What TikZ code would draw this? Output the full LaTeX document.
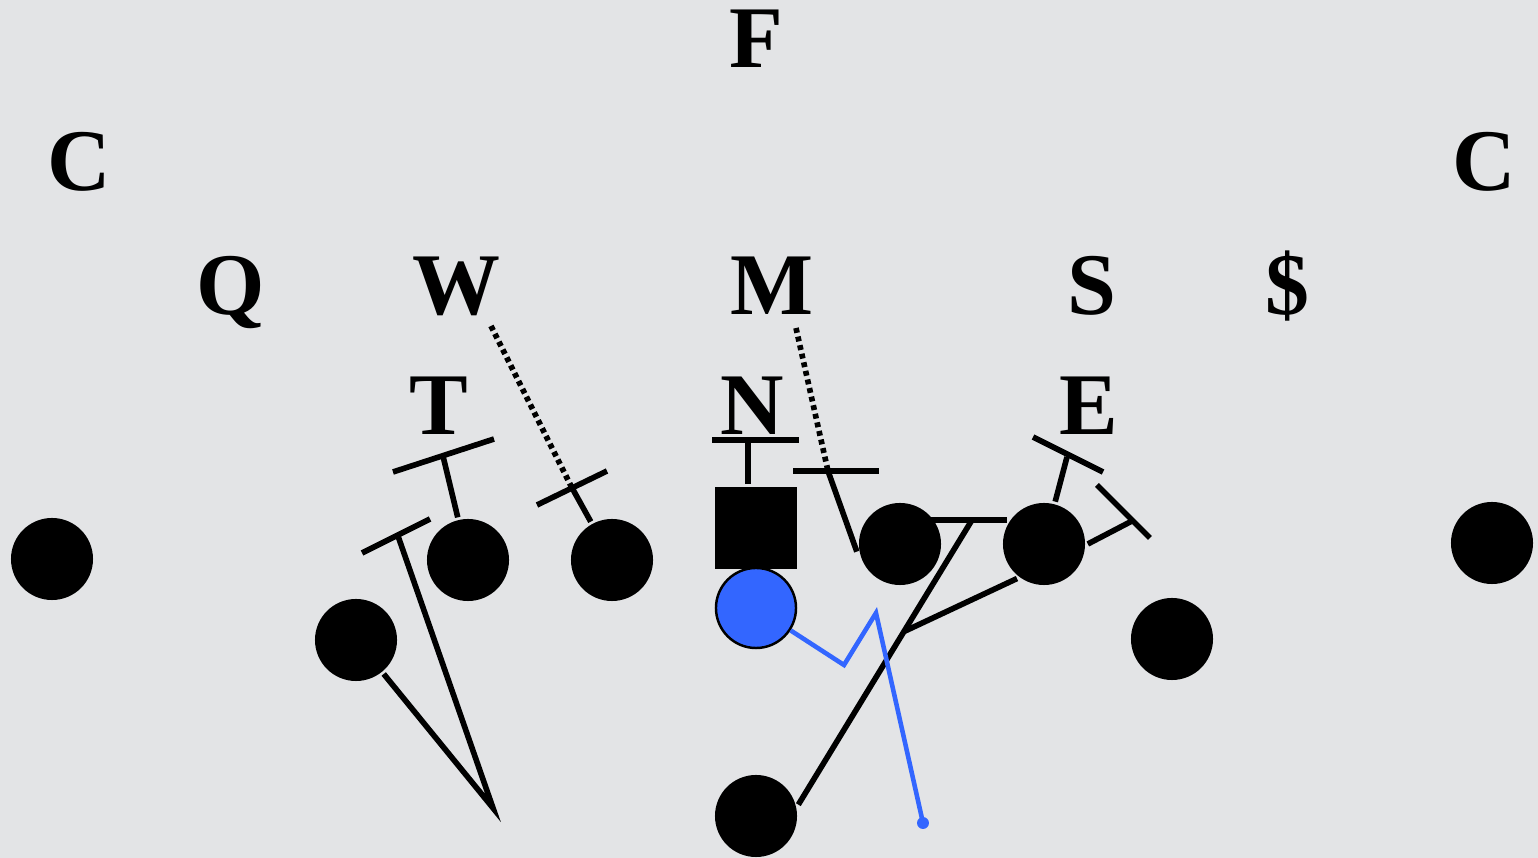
\documentclass[tikz,border=0pt]{standalone}
\usepackage{fontspec}
\setmainfont{Liberation Serif}[BoldFont={Liberation Serif Bold}]
\definecolor{marble}{RGB}{227,228,230}
\definecolor{qbblue}{RGB}{51,102,255}
\begin{document}
\begin{tikzpicture}[x=0.01cm, y=-0.01cm, line width=1.6pt,
  man/.style={circle, fill=black, minimum size=0.82cm, inner sep=0pt},
  ctrbox/.style={rectangle, fill=black, minimum size=0.82cm, inner sep=0pt},
  qbman/.style={circle, fill=qbblue, draw=black, line width=0.7pt, minimum size=0.8cm, inner sep=0pt},
  dfn/.style={font=\fontsize{25}{30}\selectfont\bfseries, anchor=base, inner sep=0pt},
  read/.style={dash pattern=on 1.4pt off 1.1pt},
  route/.style={qbblue, line width=1.3pt}]
  \fill[marble] (0,0) rectangle (1538,858);
  \useasboundingbox (0,0) rectangle (1538,858);
  % defense
  \node[dfn] (f) at (756,68) {F};
  \node[dfn] (cl) at (79,191) {C};
  \node[dfn] (cr) at (1484,191) {C};
  \node[dfn] (q) at (231,315) {Q};
  \node[dfn] (w) at (456,315) {W};
  \node[dfn] (m) at (772,315) {M};
  \node[dfn] (s) at (1092,315) {S};
  \node[dfn] (dl) at (1287,315) {\$};
  \node[dfn] (t) at (439,435) {T};
  \node[dfn] (n) at (752,435) {N};
  \node[dfn] (e) at (1089,435) {E};
  % offense
  \node[man] (wrl) at (52,559) {};
  \node[man] (lt) at (468,560) {};
  \node[man] (lg) at (612,560) {};
  \node[ctrbox] (ctr) at (756,528) {};
  \node[man] (rg) at (900,544) {};
  \node[man] (rt) at (1044,544) {};
  \node[man] (te) at (1172,639) {};
  \node[man] (wrr) at (1492,543) {};
  \node[man] (hb) at (356,640) {};
  \node[qbman] (qb) at (756,608) {};
  \node[man] (rb) at (756,816) {};
  % block points
  \coordinate (ltB) at (443,456);
  \coordinate (lgB) at (571,486);
  \coordinate (ctrB) at (748,440);
  \coordinate (rgB) at (828,471);
  \coordinate (rbB) at (972,520);
  \coordinate (meet) at (903,632);
  \coordinate (rtB1) at (1067,457);
  \coordinate (rtB2) at (1132,521);
  \coordinate (hbT) at (493,808);
  \coordinate (hbB) at (398,536);
  \coordinate (wD) at (491,326);
  \coordinate (mD) at (796,328);
  \draw (lt) -- (ltB);
  \draw (393,472) -- (494,439);
  \draw (lg) -- (lgB);
  \draw (537,505) -- (607,471);
  \draw (ctr.north -| ctrB) -- (ctrB);
  \draw (712,440) -- (799,440);
  \draw (rg.190) -- (rgB);
  \draw (793,471) -- (879,471);
  \draw (rb.15) -- (rbB);
  \draw (930,520) -- (1007,520);
  \draw (rt.232) -- (meet);
  \draw (rt) -- (rtB1);
  \draw (1033,437) -- (1103,472);
  \draw (rt.east) -- (rtB2);
  \draw (1097,485) -- (1150,538);
  \draw (hb) -- (hbT) -- (hbB);
  \draw (362,553) -- (430,519);
  % linebacker reads
  \draw[read] (wD) -- (lgB);
  \draw[read] (mD) -- (rgB);
  % qb route
  \coordinate (q1) at (844,665);
  \coordinate (q2) at (876,613);
  \coordinate (q3) at (923,823);
  \draw[route] (qb) -- (q1) -- (q2) -- (q3);
  \fill[qbblue] (q3) circle[radius=1.7pt];
\end{tikzpicture}
\end{document}
